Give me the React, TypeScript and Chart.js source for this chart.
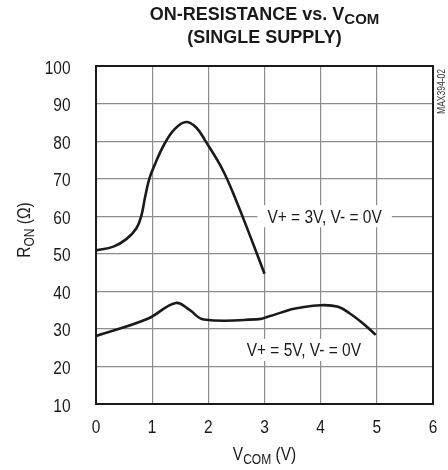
import React, { useEffect, useRef } from "react";
import { Chart, registerables } from "chart.js";

Chart.register(...registerables);

// ---- data ----
const v3Vcom = [0, 0.31, 0.54, 0.72, 0.81, 0.87, 0.95, 1.06, 1.22, 1.4, 1.6, 1.78, 1.95, 2.25, 2.5, 2.75, 3.0];
const v3Ron = [50.9, 51.9, 53.9, 56.8, 60.3, 64.8, 70.0, 74.2, 79.3, 83.2, 85.1, 83.7, 80.0, 72.5, 64.0, 54.5, 44.7];

const v5Vcom = [0, 0.92, 1.42, 1.66, 1.92, 2.9, 3.07, 3.48, 3.57, 4.0, 4.31, 4.52, 4.75, 4.98];
const v5Ron = [28.1, 32.7, 36.9, 35.1, 32.5, 32.6, 33.3, 35.2, 35.5, 36.3, 35.9, 34.1, 31.5, 28.4];

const xTicks = [0, 1, 2, 3, 4, 5, 6];
const yTicks = [10, 20, 30, 40, 50, 60, 70, 80, 90, 100];

const seriesLabels = ["V+ = 3V, V- = 0V", "V+ = 5V, V- = 0V"];

const FONT = '"Liberation Sans", Arial, sans-serif';
const NARROW = 0.86;

type Seg = { t: string; sub?: boolean };

function drawRich(
  ctx: CanvasRenderingContext2D,
  segs: Seg[],
  x0: number,
  baseline: number,
  size: number,
  bold: boolean,
  subSize: number,
  subDrop: number,
  align: "center" | "right" | "left",
  sx: number
) {
  const w = (s: Seg) => {
    ctx.font = `${bold ? "bold " : ""}${s.sub ? subSize : size}px ${FONT}`;
    return ctx.measureText(s.t).width;
  };
  const total = segs.reduce((a, s) => a + w(s), 0) * sx;
  let x = align === "center" ? x0 - total / 2 : align === "right" ? x0 - total : x0;
  ctx.save();
  ctx.textAlign = "left";
  ctx.textBaseline = "alphabetic";
  for (const s of segs) {
    const ww = w(s);
    ctx.save();
    ctx.translate(x, baseline + (s.sub ? subDrop : 0));
    ctx.scale(sx, 1);
    ctx.fillText(s.t, 0, 0);
    ctx.restore();
    x += ww * sx;
  }
  ctx.restore();
}

const decorPlugin = {
  id: "decor",
  beforeDatasetsDraw(chart: any) {
    const { ctx, scales } = chart;
    const xs = scales.x;
    const ys = scales.y;
    ctx.save();
    const boxes = [
      { text: seriesLabels[0], x: 4.07, y: 60 },
      { text: seriesLabels[1], x: 3.7, y: 24.4 },
    ];
    for (const b of boxes) {
      const px = xs.getPixelForValue(b.x);
      const py = ys.getPixelForValue(b.y);
      ctx.font = `18px ${FONT}`;
      const tw = ctx.measureText(b.text).width * NARROW;
      ctx.fillStyle = "#ffffff";
      ctx.fillRect(px - tw / 2 - 10, py - 11, tw + 20, 22);
      ctx.fillStyle = "#1a1a1a";
      drawRich(ctx, [{ t: b.text }], px, py + 6.5, 18, false, 18, 0, "center", NARROW);
    }
    ctx.restore();
  },
  afterDatasetsDraw(chart: any) {
    const { ctx, chartArea } = chart;
    ctx.save();
    ctx.strokeStyle = "#1a1a1a";
    ctx.lineWidth = 2;
    ctx.strokeRect(chartArea.left, chartArea.top, chartArea.right - chartArea.left, chartArea.bottom - chartArea.top);
    ctx.restore();
  },
  afterDraw(chart: any) {
    const { ctx, chartArea, scales } = chart;
    const cx = (chartArea.left + chartArea.right) / 2;
    ctx.save();
    ctx.fillStyle = "#1a1a1a";
    // tick labels
    for (const v of yTicks) {
      const py = scales.y.getPixelForValue(v);
      drawRich(ctx, [{ t: String(v) }], 70.5, py + 7.5, 18, false, 18, 0, "right", NARROW);
    }
    for (const v of xTicks) {
      const px = scales.x.getPixelForValue(v);
      drawRich(ctx, [{ t: String(v) }], px, 432.5, 18, false, 18, 0, "center", NARROW);
    }
    // title
    drawRich(ctx, [{ t: "ON-RESISTANCE vs. V" }, { t: "COM", sub: true }], cx, 20, 18, true, 15, 4, "center", 1);
    drawRich(ctx, [{ t: "(SINGLE SUPPLY)" }], cx, 43, 18, true, 15, 0, "center", 1);
    // x title
    drawRich(ctx, [{ t: "V" }, { t: "COM", sub: true }, { t: " (V)" }], cx, 460, 18, false, 14, 4, "center", NARROW);
    // y title
    ctx.save();
    ctx.translate(30, (chartArea.top + chartArea.bottom) / 2 - 5);
    ctx.rotate(-Math.PI / 2);
    drawRich(ctx, [{ t: "R" }, { t: "ON", sub: true }, { t: " (Ω)" }], 0, 0, 18, false, 14, 4, "center", NARROW);
    ctx.restore();
    // figure id
    ctx.save();
    ctx.translate(445, 91.5);
    ctx.rotate(-Math.PI / 2);
    ctx.fillStyle = "#333";
    drawRich(ctx, [{ t: "MAX394-02" }], 0, 0, 10, false, 10, 0, "center", 0.85);
    ctx.restore();
    ctx.restore();
  },
};

export default function App() {
  const ref = useRef<HTMLCanvasElement | null>(null);
  useEffect(() => {
    if (!ref.current) return;
    const chart = new Chart(ref.current, {
      type: "line",
      data: {
        datasets: [
          {
            label: seriesLabels[0],
            data: v3Vcom.map((x, i) => ({ x, y: v3Ron[i] })),
            borderColor: "#1a1a1a",
            borderWidth: 2.6,
            pointRadius: 0,
            tension: 0.4,
            fill: false,
          },
          {
            label: seriesLabels[1],
            data: v5Vcom.map((x, i) => ({ x, y: v5Ron[i] })),
            borderColor: "#1a1a1a",
            borderWidth: 2.6,
            pointRadius: 0,
            tension: 0.4,
            fill: false,
          },
        ],
      },
      options: {
        animation: false,
        responsive: false,
        devicePixelRatio: 1,
        layout: { padding: { top: 66, right: 15, left: 0, bottom: 0 } },
        plugins: { legend: { display: false }, tooltip: { enabled: false }, title: { display: false } },
        scales: {
          x: {
            type: "linear",
            min: xTicks[0],
            max: xTicks[xTicks.length - 1],
            afterFit: (s: any) => {
              s.height = 66;
            },
            afterBuildTicks: (s: any) => {
              s.ticks = xTicks.map((v) => ({ value: v }));
            },
            ticks: { display: false },
            grid: { color: "#8c8c8c", lineWidth: 1.2, drawTicks: false },
            border: { display: false },
          },
          y: {
            min: yTicks[0],
            max: yTicks[yTicks.length - 1],
            afterFit: (s: any) => {
              s.width = 96;
            },
            afterBuildTicks: (s: any) => {
              s.ticks = yTicks.map((v) => ({ value: v }));
            },
            ticks: { display: false },
            grid: { color: "#8c8c8c", lineWidth: 1.2, drawTicks: false },
            border: { display: false },
          },
        },
      } as any,
      plugins: [decorPlugin],
    });
    return () => chart.destroy();
  }, []);
  return (
    <div style={{ position: "absolute", left: 0, top: 0, width: 448, height: 470, background: "#fff" }}>
      <canvas ref={ref} width={448} height={470} style={{ width: 448, height: 470, display: "block" }} />
    </div>
  );
}
